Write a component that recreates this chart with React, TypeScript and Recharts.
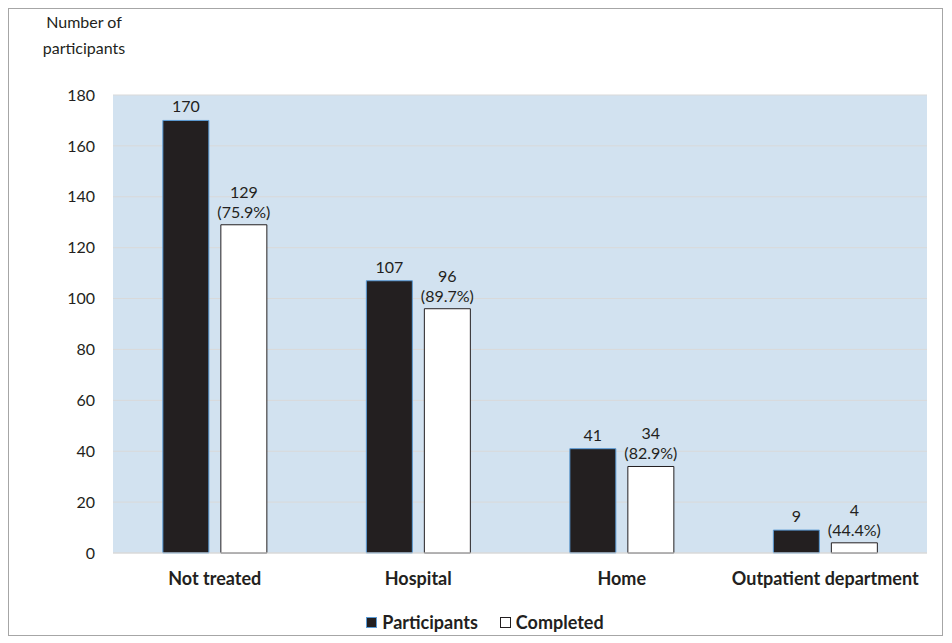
import React from 'react';
import { BarChart, Bar, XAxis, YAxis, CartesianGrid, LabelList, Legend } from 'recharts';

const categories = ['Not treated', 'Hospital', 'Home', 'Outpatient department'];
const participants = [170, 107, 41, 9];
const completed = [129, 96, 34, 4];
const completedPct = ['75.9%', '89.7%', '82.9%', '44.4%'];
const yTicks = [0, 20, 40, 60, 80, 100, 120, 140, 160, 180];

const data = categories.map((name, i) => ({
  name,
  participants: participants[i],
  completed: completed[i],
  pct: completedPct[i],
}));

const FONT = 'Lato, "Open Sans", sans-serif';
const INK = '#231f20';

// two-line label above the completed bars
const CompletedLabel = (props: any) => {
  const { x, y, width, index } = props;
  const cx = x + width / 2;
  return (
    <text x={cx} y={y - 27} textAnchor="middle" fontSize={16} fill={INK} fontFamily={FONT}>
      <tspan x={cx} dy={0}>{completed[index]}</tspan>
      <tspan x={cx} dy={20}>({completedPct[index]})</tspan>
    </text>
  );
};

const LegendContent = () => (
  <div style={{ display: 'flex', justifyContent: 'center', gap: 22, fontFamily: FONT, fontWeight: 700, fontSize: 18, color: INK, paddingLeft: 34 }}>
    <span style={{ display: 'flex', alignItems: 'center' }}>
      <span style={{ width: 9, height: 9, background: INK, border: '1px solid #5b9bd5', marginRight: 5 }} />
      Participants
    </span>
    <span style={{ display: 'flex', alignItems: 'center' }}>
      <span style={{ width: 9, height: 9, background: '#fff', border: `1px solid ${INK}`, marginRight: 5 }} />
      Completed
    </span>
  </div>
);

export default function App() {
  return (
    <div style={{ position: 'relative', width: 933, height: 626, border: '1px solid #a6a6a6', background: '#fff' }}>
      <div style={{ position: 'absolute', left: 25, top: 0, width: 100, textAlign: 'center', fontFamily: FONT, fontSize: 16, lineHeight: '26px', color: INK }}>
        Number of<br />participants
      </div>
      <BarChart
        width={933}
        height={626}
        data={data}
        margin={{ top: 86, right: 15, left: 0, bottom: 22 }}
        barCategoryGap="24.5%"
        barGap={12}
      >
        <CartesianGrid vertical={false} stroke="#d9d9d9" fill="#d2e2f0" />
        <XAxis
          dataKey="name"
          axisLine={{ stroke: '#d9d9d9' }}
          tickLine={false}
          interval={0}
          height={30}
          tick={{ fill: INK, fontSize: 18, fontWeight: 700, fontFamily: FONT }}
          dy={11}
        />
        <YAxis
          width={104}
          domain={[0, 180]}
          ticks={yTicks}
          axisLine={false}
          tickLine={false}
          tick={{ fill: INK, fontSize: 16, fontFamily: FONT }}
          dx={-10}
        />
        <Legend verticalAlign="bottom" height={30} content={<LegendContent />} wrapperStyle={{ bottom: -6 }} />
        <Bar dataKey="participants" name="Participants" fill={INK} stroke="#5b9bd5" strokeWidth={1} isAnimationActive={false}>
          <LabelList dataKey="participants" position="top" offset={8} fill={INK} fontSize={16} fontFamily={FONT} />
        </Bar>
        <Bar dataKey="completed" name="Completed" fill="#ffffff" stroke={INK} strokeWidth={1} isAnimationActive={false}>
          <LabelList dataKey="completed" content={<CompletedLabel />} />
        </Bar>
      </BarChart>
    </div>
  );
}
